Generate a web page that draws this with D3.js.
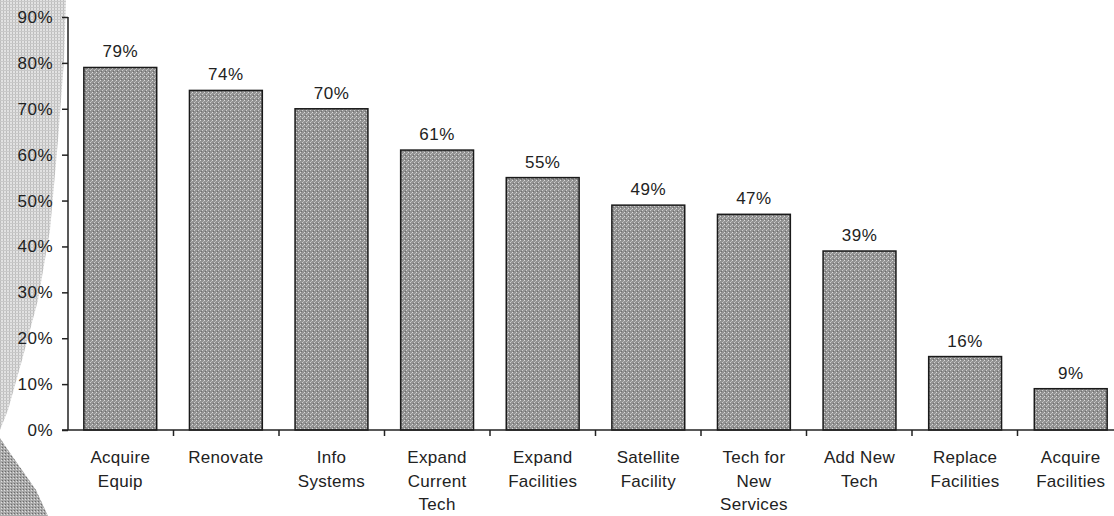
<!DOCTYPE html>
<html>
<head>
<meta charset="utf-8">
<script src="https://cdn.jsdelivr.net/npm/d3@7"></script>
<style>
  body { margin: 0; background: #fff; }
  svg { display: block; font-family: Arial, "Liberation Sans", sans-serif; }
</style>
</head>
<body>
<div id="chart"></div>
<script>
const width = 1114,
    height = 516,
    margin = {top: 17, right: -9, bottom: 86, left: 68};

const fontSize = 17;

// data
const categories = [
    ["Acquire", "Equip"],
    ["Renovate"],
    ["Info", "Systems"],
    ["Expand", "Current", "Tech"],
    ["Expand", "Facilities"],
    ["Satellite", "Facility"],
    ["Tech for", "New", "Services"],
    ["Add New", "Tech"],
    ["Replace", "Facilities"],
    ["Acquire", "Facilities"]
];
const values = [79, 74, 70, 61, 55, 49, 47, 39, 16, 9];
const yTicks = [0, 10, 20, 30, 40, 50, 60, 70, 80, 90];

const keys = categories.map(d => d.join(" "));

let svg = d3.select("#chart").append("svg")
    .attr("width", width)
    .attr("height", height);

let defs = svg.append("defs");

// stippled grey fill for the bars
let pat = defs.append("pattern")
    .attr("id", "stipple")
    .attr("width", 4).attr("height", 4)
    .attr("patternUnits", "userSpaceOnUse");
pat.append("rect").attr("width", 4).attr("height", 4).attr("fill", "#929292");
pat.append("rect").attr("x", 0).attr("y", 0).attr("width", 1).attr("height", 1).attr("fill", "#dcdcdc");
pat.append("rect").attr("x", 2).attr("y", 2).attr("width", 1).attr("height", 1).attr("fill", "#d0d0d0");
pat.append("rect").attr("x", 3).attr("y", 1).attr("width", 1).attr("height", 1).attr("fill", "#b8b8b8");
pat.append("rect").attr("x", 1).attr("y", 3).attr("width", 1).attr("height", 1).attr("fill", "#6e6e6e");

// light dither for the scanned page edge
let pat2 = defs.append("pattern")
    .attr("id", "dither")
    .attr("width", 3).attr("height", 3)
    .attr("patternUnits", "userSpaceOnUse");
pat2.append("rect").attr("width", 3).attr("height", 3).attr("fill", "#e2e2e2");
pat2.append("rect").attr("x", 0).attr("y", 0).attr("width", 1).attr("height", 3).attr("fill", "#bdbdbd");
pat2.append("rect").attr("x", 0).attr("y", 1).attr("width", 3).attr("height", 1).attr("fill", "#c8c8c8");

let pat3 = defs.append("pattern")
    .attr("id", "dither2")
    .attr("width", 3).attr("height", 3)
    .attr("patternUnits", "userSpaceOnUse");
pat3.append("rect").attr("width", 3).attr("height", 3).attr("fill", "#a8a8a8");
pat3.append("rect").attr("x", 1).attr("y", 1).attr("width", 1).attr("height", 1).attr("fill", "#e0e0e0");
pat3.append("rect").attr("x", 2).attr("y", 0).attr("width", 1).attr("height", 1).attr("fill", "#6a6a6a");

// scanned background edges on the left
svg.append("path")
    .attr("d", "M0,0 L66,0 L64,60 L58,140 L50,230 L38,300 L22,360 L8,410 L0,430 Z")
    .attr("fill", "url(#dither)");
svg.append("path")
    .attr("d", "M0,438 L8,450 L22,470 L36,490 L48,516 L0,516 Z")
    .attr("fill", "url(#dither2)");

// scales
let x = d3.scaleBand()
    .domain(keys)
    .range([margin.left, width - margin.right])
    .paddingInner(0.31)
    .paddingOuter(0.15);

let xEdge = d3.scaleBand()
    .domain(keys)
    .range([margin.left, width - margin.right])
    .padding(0);

let y = d3.scaleLinear()
    .domain([0, 90])
    .range([height - margin.bottom, margin.top]);

// bars
svg.append("g")
  .selectAll("rect")
  .data(values)
  .join("rect")
    .attr("x", (d, i) => x(keys[i]))
    .attr("y", d => y(d))
    .attr("width", x.bandwidth())
    .attr("height", d => y(0) - y(d))
    .attr("fill", "url(#stipple)")
    .attr("stroke", "#1a1a1a")
    .attr("stroke-width", 1.5);

// value labels
svg.append("g")
  .selectAll("text")
  .data(values)
  .join("text")
    .attr("x", (d, i) => x(keys[i]) + x.bandwidth() / 2)
    .attr("y", d => y(d) - 10)
    .attr("text-anchor", "middle")
    .attr("font-size", fontSize)
    .attr("letter-spacing", 0.5)
    .attr("fill", "#222")
    .text(d => d + "%");

// y axis
let yAxis = svg.append("g")
    .attr("transform", `translate(${margin.left},0)`)
    .call(d3.axisLeft(y)
        .tickValues(yTicks)
        .tickSize(6)
        .tickPadding(9)
        .tickFormat(d => d + "%"));
yAxis.select(".domain")
    .attr("d", `M0,${y(90)}V${y(0)}`)
    .attr("stroke", "#222").attr("stroke-width", 1.5);
yAxis.selectAll(".tick line").attr("stroke", "#222").attr("stroke-width", 1.5);
yAxis.selectAll(".tick text")
    .attr("font-size", fontSize)
    .attr("letter-spacing", 0.5)
    .attr("fill", "#222")
    .attr("font-family", "Arial, 'Liberation Sans', sans-serif");

// x axis line + ticks at category boundaries
let xg = svg.append("g");
xg.append("line")
    .attr("x1", margin.left - 6).attr("x2", width)
    .attr("y1", y(0)).attr("y2", y(0))
    .attr("stroke", "#222").attr("stroke-width", 1.5);
xg.selectAll(".xtick")
  .data(keys.slice(1))
  .join("line")
    .attr("class", "xtick")
    .attr("x1", d => xEdge(d)).attr("x2", d => xEdge(d))
    .attr("y1", y(0)).attr("y2", y(0) + 6)
    .attr("stroke", "#222").attr("stroke-width", 1.5);

// category labels
let lab = svg.append("g")
  .selectAll("text")
  .data(categories)
  .join("text")
    .attr("x", (d, i) => x(keys[i]) + x.bandwidth() / 2)
    .attr("y", y(0) + 33)
    .attr("text-anchor", "middle")
    .attr("font-size", fontSize)
    .attr("letter-spacing", 0.3)
    .attr("fill", "#222");
lab.selectAll("tspan")
  .data(d => d)
  .join("tspan")
    .attr("x", function () { return d3.select(this.parentNode).attr("x"); })
    .attr("dy", (d, i) => i === 0 ? 0 : 23.5)
    .text(d => d);
</script>
</body>
</html>
